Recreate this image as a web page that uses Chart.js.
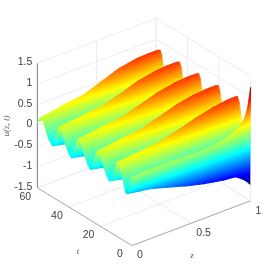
<!DOCTYPE html>
<html><head><meta charset="utf-8">
<script src="https://cdn.jsdelivr.net/npm/chart.js@4"></script>
<style>html,body{margin:0;padding:0;background:#fff}canvas{display:block;filter:blur(0.35px)}</style>
</head><body><canvas id="c" width="278" height="276"></canvas>
<script>
const zGrid=[0,.1,.2,.35,.5,.65,.8,.9,.95,.975,1];
const tGrid=[0,.4,1,2,3,3.8,5.3,6.3,7.3,8.3,9.8,11.3,12.8,
14.5,16,17.5,18.5,19.5,20.5,22,23.5,25,
26.5,28.3,29.8,30.8,31.8,32.8,34.3,35.8,37.3,
38.5,40.5,42,43,44,45,46.5,48,49.5,
50.5,52.8,54.3,55.3,56.3,57.3,58.8,60];
const uRows=[
[.16,.17,.17,.17,.15,.16,.24,.36,.55,.78,1.23],
[.10,.10,.10,.08,.05,0,-.15,-.45,-.8,-1.02,-1.11],
[-.02,-.04,-.06,-.12,-.2,-.35,-.55,-.80,-.95,-.98,-1.05],
[-.16,-.2,-.24,-.32,-.45,-.62,-.83,-.86,-.85,-.85,-.85],
[-.28,-.32,-.37,-.48,-.67,-.78,-.68,-.62,-.56,-.54,-.5],
[-.34,-.39,-.435,-.56,-.6,-.6,-.5,-.42,-.34,-.3,-.28],
[-.14,-.13,-.11,-.1,-.09,-.04,0,.07,.11,.13,.15],
[0,.03,.08,.13,.18,.26,.35,.44,.46,.47,.47],
[.15,.2,.26,.33,.41,.52,.62,.7,.72,.73,.73],
[.3,.33,.38,.44,.55,.68,.78,.82,.83,.83,.82],
[.27,.3,.32,.33,.41,.52,.60,.62,.63,.62,.61],
[0,-.02,-.04,-.01,.01,.05,.07,.07,.06,.05,.04],
[-.2,-.25,-.29,-.35,-.41,-.47,-.51,-.55,-.57,-.59,-.61],
[-.28,-.34,-.4,-.5,-.61,-.71,-.8,-.85,-.88,-.9,-.92],
[-.2,-.23,-.27,-.33,-.38,-.43,-.49,-.52,-.54,-.56,-.58],
[-.06,-.06,-.03,.03,.06,.09,.08,.06,.05,.04,.03],
[.05,.07,.12,.22,.31,.4,.44,.45,.45,.45,.45],
[.15,.18,.26,.37,.48,.62,.70,.71,.71,.71,.70],
[.23,.28,.37,.45,.58,.72,.80,.82,.82,.82,.80],
[.27,.3,.34,.36,.44,.55,.60,.61,.61,.60,.59],
[.1,.12,.12,.04,.05,.08,.06,.06,.05,.04,.03],
[-.14,-.18,-.22,-.34,-.40,-.46,-.52,-.55,-.58,-.60,-.61],
[-.28,-.34,-.4,-.5,-.6,-.7,-.8,-.85,-.88,-.9,-.92],
[-.2,-.23,-.27,-.33,-.38,-.43,-.49,-.52,-.54,-.56,-.58],
[-.06,-.06,-.03,.03,.06,.09,.08,.06,.05,.04,.03],
[.05,.07,.12,.22,.31,.4,.44,.45,.45,.45,.45],
[.15,.18,.26,.37,.48,.62,.70,.71,.71,.71,.70],
[.23,.28,.37,.45,.58,.72,.80,.82,.82,.82,.80],
[.27,.3,.34,.36,.44,.55,.60,.61,.61,.60,.59],
[.1,.12,.12,.04,.05,.08,.06,.06,.05,.04,.03],
[-.15,-.18,-.22,-.34,-.40,-.46,-.52,-.55,-.58,-.60,-.61],
[-.28,-.34,-.4,-.5,-.6,-.7,-.8,-.85,-.88,-.9,-.92],
[-.2,-.23,-.27,-.33,-.38,-.43,-.49,-.52,-.54,-.56,-.58],
[-.07,-.06,-.03,.03,.06,.09,.08,.06,.05,.04,.03],
[.05,.07,.12,.21,.31,.4,.44,.45,.45,.45,.45],
[.15,.18,.26,.36,.48,.62,.70,.71,.71,.71,.70],
[.23,.28,.36,.44,.57,.72,.80,.82,.82,.82,.80],
[.27,.3,.33,.36,.44,.55,.60,.61,.61,.60,.59],
[.12,.12,.12,.04,.05,.08,.06,.06,.05,.04,.03],
[-.2,-.22,-.24,-.34,-.40,-.46,-.52,-.55,-.58,-.60,-.61],
[-.27,-.33,-.4,-.5,-.6,-.7,-.8,-.85,-.88,-.9,-.92],
[-.17,-.2,-.24,-.33,-.38,-.43,-.49,-.52,-.54,-.56,-.58],
[-.03,-.04,-.02,.02,.06,.09,.08,.06,.05,.04,.03],
[.08,.09,.12,.2,.31,.41,.44,.45,.45,.45,.45],
[.17,.2,.26,.33,.47,.62,.70,.71,.71,.71,.70],
[.25,.30,.36,.41,.57,.73,.81,.82,.82,.82,.80],
[.2,.24,.28,.32,.42,.55,.60,.60,.60,.59,.58],
[.08,.09,.1,.15,.24,.34,.40,.42,.43,.43,.42]
];
const uTicks=[-1.5,-1,-.5,0,.5,1,1.5];
const uTickLabels=['-1.5','-1','-0.5','0','0.5','1','1.5'];
const tTicks=[0,20,40,60];
const zTicks=[0,.5,1];
const zTickLabels=['0','0.5','1'];

// orthographic camera of the 3-D view, expressed in the units of the x / y scales
const view={ox:132,oy:246,zx:119,zy:-45,tx:-95/60,ty:-58/60,uy:-125/3,uMin:-1.5,uMax:1.5,tMax:60};
const colorRange=[-1.115,1.23];
const project=(z,t,u)=>({x:view.ox+view.zx*z+view.tx*t,y:view.oy+view.zy*z+view.ty*t+view.uy*(u-view.uMin)});

const jetKnots=[[0,0,0,.5],[.125,0,0,1],[.375,0,1,1],[.625,1,1,0],[.875,1,0,0],[1,.5,0,0]];
function jet(u){
  let f=(u-colorRange[0])/(colorRange[1]-colorRange[0]);f=Math.max(0,Math.min(1,f));
  for(let i=1;i<jetKnots.length;i++){const a=jetKnots[i-1],b=jetKnots[i];
    if(f<=b[0]){const k=(f-a[0])/(b[0]-a[0]);
      return 'rgb('+[1,2,3].map(n=>Math.round(255*(a[n]+(b[n]-a[n])*k))).join(',')+')';}}
  return 'rgb(127,0,0)';
}
let layoutReady=false;
function triPaint(c){
  const ds=c.dataset;
  const umin=Math.min(...ds.triU),umax=Math.max(...ds.triU);
  if(!layoutReady)return jet((umin+umax)/2);
  if(ds._paint)return ds._paint;
  const sx=c.chart.scales.x,sy=c.chart.scales.y;
  const p=ds.data.slice(0,3).map((d,i)=>({x:sx.getPixelForValue(d.x),y:sy.getPixelForValue(d.y),u:ds.triU[i]}));
  const ax=p[1].x-p[0].x,ay=p[1].y-p[0].y,bx=p[2].x-p[0].x,by=p[2].y-p[0].y;
  const du1=p[1].u-p[0].u,du2=p[2].u-p[0].u,det=ax*by-ay*bx;
  let paint=jet((umin+umax)/2);
  if(Math.abs(det)>1e-3&&umax-umin>1e-3){
    const gx=(du1*by-du2*ay)/det,gy=(ax*du2-bx*du1)/det,g2=gx*gx+gy*gy;
    const s=p.find(q=>q.u===umin),len=(umax-umin)/g2;
    const grad=c.chart.ctx.createLinearGradient(s.x,s.y,s.x+gx*len,s.y+gy*len);
    grad.addColorStop(0,jet(umin));
    jetKnots.forEach(k=>{const uk=colorRange[0]+k[0]*(colorRange[1]-colorRange[0]);
      if(uk>umin&&uk<umax)grad.addColorStop((uk-umin)/(umax-umin),jet(uk));});
    grad.addColorStop(1,jet(umax));
    paint=grad;
  }
  ds._paint=paint;
  return paint;
}

const datasets=[];
function tri(a,b,d){
  const pts=[a,b,d,a].map(v=>project(zGrid[v[1]],tGrid[v[0]],uRows[v[0]][v[1]]));
  datasets.push({data:pts,triU:[a,b,d].map(v=>uRows[v[0]][v[1]]),fill:'shape',backgroundColor:triPaint,borderColor:triPaint,borderWidth:.6,pointRadius:0,tension:.0001});
}
for(let i=0;i<tGrid.length-1;i++)for(let j=0;j<zGrid.length-1;j++){
  tri([i,j],[i,j+1],[i+1,j]);
  tri([i,j+1],[i+1,j+1],[i+1,j]);
}
function seg(a,b,color,w){datasets.push({data:[a,b],fill:false,borderColor:color,borderWidth:w,pointRadius:0,tension:.0001});}
const gridC='#ececec',axisC='#a8a8a8';
// axes
seg(project(0,view.tMax,view.uMin),project(0,view.tMax,view.uMax),'#7a7a7a',1);
seg(project(0,view.tMax,view.uMin),project(0,0,view.uMin),axisC,1);
seg(project(0,0,view.uMin),project(1,0,view.uMin),axisC,1);
// grid: u levels on the two back walls
uTicks.forEach(u=>{seg(project(0,view.tMax,u),project(1,view.tMax,u),gridC,1);seg(project(1,view.tMax,u),project(1,0,u),gridC,1);});
zTicks.forEach(z=>{seg(project(z,0,view.uMin),project(z,view.tMax,view.uMin),gridC,1);seg(project(z,view.tMax,view.uMin),project(z,view.tMax,view.uMax),gridC,1);});
tTicks.forEach(t=>{seg(project(0,t,view.uMin),project(1,t,view.uMin),gridC,1);seg(project(1,t,view.uMin),project(1,t,view.uMax),gridC,1);});

const labels={id:'labels3d',afterDraw(chart){
  const c=chart.ctx,sx=chart.scales.x,sy=chart.scales.y;
  const px=p=>[sx.getPixelForValue(p.x),sy.getPixelForValue(p.y)];
  c.save();c.fillStyle='#404040';c.font='10.5px "Liberation Sans"';c.textBaseline='middle';
  c.textAlign='right';
  uTicks.forEach((u,i)=>{const [x,y]=px(project(0,view.tMax,u));c.fillText(uTickLabels[i],x-5,y-1);});
  c.textAlign='center';
  tTicks.forEach(t=>{const [x,y]=px(project(0,t,view.uMin));c.fillText(String(t),x-12,y+9);});
  c.textAlign='left';
  zTicks.forEach((z,i)=>{const [x,y]=px(project(z,0,view.uMin));c.fillText(zTickLabels[i],x+5,y+10);});
  c.fillStyle='#555';c.font='italic 9px "Liberation Serif"';c.textAlign='center';
  c.fillText('t',78,252);c.fillText('z',192,256);
  c.translate(7,126);c.rotate(-Math.PI/2);c.fillText('u(z, t)',0,0);
  c.restore();
}};

const chart=new Chart(document.getElementById('c'),{type:'line',data:{datasets},plugins:[labels],options:{
  responsive:false,animation:false,events:[],
  layout:{padding:0},clip:false,
  plugins:{legend:{display:false},tooltip:{enabled:false},title:{display:false}},
  scales:{x:{type:'linear',min:0,max:278,display:false},y:{type:'linear',min:0,max:276,reverse:true,display:false}}
}});
layoutReady=true;
chart.update('none');
</script></body></html>
